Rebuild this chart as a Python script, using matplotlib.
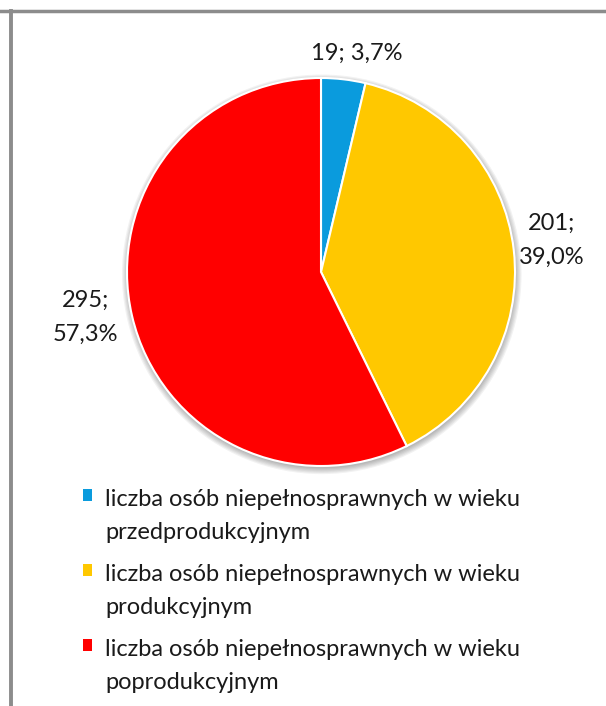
import matplotlib.pyplot as plt
from matplotlib.patches import Patch, Rectangle, Circle
from matplotlib.legend_handler import HandlerPatch
from matplotlib.lines import Line2D

# data
counts = [19, 201, 295]
labels = ["19; 3,7%", "201;\n39,0%", "295;\n57,3%"]
legend_labels = [
    "liczba osób niepełnosprawnych w wieku\nprzedprodukcyjnym",
    "liczba osób niepełnosprawnych w wieku\nprodukcyjnym",
    "liczba osób niepełnosprawnych w wieku\npoprodukcyjnym",
]
colors = ["#0A9BDD", "#FFC800", "#FF0000"]

# where the data labels sit (pie radius = 1)
label_xy = [(0.186, 1.129), (1.191, 0.165), (-1.216, -0.232)]

plt.rcParams['font.family'] = ['Lato', 'DejaVu Sans']
TXT = "#1a1a1a"

W, H = 606, 706
fig = plt.figure(figsize=(W / 100, H / 100), dpi=100)

# pie axes placed so the disc sits at centre (321, 272) px with radius 194 px
cx, cy, r = 321, 272, 194
ax = fig.add_axes([(cx - r) / W, 1 - (cy + r) / H, 2 * r / W, 2 * r / H])

# soft shadow under the disc
for i in range(6):
    ax.add_patch(Circle((0.004, -0.012), 1.0 + 0.006 * i, color="black",
                        alpha=0.05, lw=0, zorder=0, clip_on=False))

wedges, texts = ax.pie(counts, labels=labels, colors=colors, startangle=90,
                       counterclock=False,
                       wedgeprops=dict(edgecolor="white", linewidth=1.5),
                       textprops=dict(fontsize=17, color=TXT,
                                      linespacing=1.75))
for w in wedges:
    w.set_zorder(2)
for t, xy in zip(texts, label_xy):
    t.set_position(xy)
    t.set_ha("center")
    t.set_va("center")
    t.set_clip_on(False)
ax.set_xlim(-1, 1)
ax.set_ylim(-1, 1)
ax.set_aspect("equal")
ax.axis("off")


def top_square(legend, orig_handle, xdescent, ydescent, width, height, fontsize):
    # keep the square level with the first line of a two-line label
    return Rectangle((-xdescent, -ydescent + 0.88 * fontsize), width, height)


handles = [Patch(facecolor=c, edgecolor="none") for c in colors]
leg = fig.legend(handles, legend_labels, loc="upper left",
                 bbox_to_anchor=(83 / W, 1 - 489 / H), frameon=False,
                 fontsize=17, handlelength=0.4, handleheight=0.4,
                 handletextpad=0.55, labelspacing=0.88, borderaxespad=0,
                 borderpad=0,
                 handler_map={Patch: HandlerPatch(patch_func=top_square)})
for t in leg.get_texts():
    t.set_linespacing(1.72)
    t.set_color(TXT)

# grey frame lines at top and left
fig.add_artist(Line2D([0, 1], [1 - 11 / H] * 2, color="#8c8c8c", lw=2.5))
fig.add_artist(Line2D([11 / W] * 2, [0, 1 - 11 / H], color="#8c8c8c", lw=2.8))

fig.savefig("out.png", dpi=100)
